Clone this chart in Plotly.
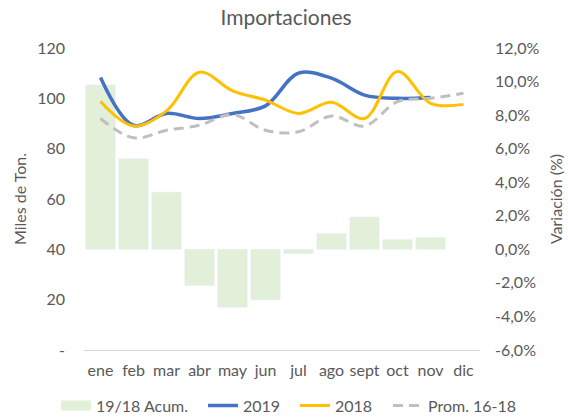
import plotly.graph_objects as go

months = ["ene", "feb", "mar", "abr", "may", "jun", "jul", "ago", "sept", "oct", "nov", "dic"]
var_acum = [9.8, 5.4, 3.4, -2.15, -3.45, -3.0, -0.25, 0.95, 1.93, 0.58, 0.7, None]
y2019 = [108.3, 89.3, 94, 92, 94, 97, 110, 108, 101.3, 100, 100.3, None]
y2018 = [98.7, 89.0, 95, 110.4, 103, 99.3, 94, 98.4, 92, 110.7, 98, 97.6]
prom = [92, 84.3, 87.3, 89.3, 93.6, 87.3, 86.7, 93, 89, 98.7, 100, 102]

left_vals = [0, 20, 40, 60, 80, 100, 120]
left_text = ["-", "20", "40", "60", "80", "100", "120"]
right_vals = [-6, -4, -2, 0, 2, 4, 6, 8, 10, 12]
right_text = ["-6,0%", "-4,0%", "-2,0%", "0,0%", "2,0%", "4,0%", "6,0%", "8,0%", "10,0%", "12,0%"]

FONT = "Lato"
GRAY = "#595959"
FS = 16

fig = go.Figure()
fig.add_trace(go.Bar(x=months, y=var_acum, name="19/18 Acum.", marker_color="#E2EFD9",
                     yaxis="y", showlegend=False, hoverinfo="skip"))
# legend swatch for the bars (wide rectangle like the reference)
fig.add_trace(go.Scatter(x=[None], y=[None], name="19/18 Acum.", mode="lines", yaxis="y2",
                         line=dict(color="#E2EFD9", width=10), legend="legend"))
fig.add_trace(go.Scatter(x=months, y=y2019, name="2019", mode="lines", yaxis="y2",
                         line=dict(color="#4472C4", width=3.5, shape="spline", smoothing=1),
                         legend="legend2"))
fig.add_trace(go.Scatter(x=months, y=y2018, name="2018", mode="lines", yaxis="y2",
                         line=dict(color="#FFC000", width=3, shape="spline", smoothing=1),
                         legend="legend3"))
fig.add_trace(go.Scatter(x=months, y=prom, name="Prom. 16-18", mode="lines", yaxis="y2",
                         line=dict(color="#BFBFBF", width=3, dash="10px,6px", shape="spline", smoothing=1),
                         legend="legend4"))

def leg(xpx):
    return dict(orientation="h", x=xpx / 568, xanchor="left", xref="container",
                y=1 - 405.5 / 417, yanchor="middle", yref="container",
                font=dict(size=FS, color=GRAY, family=FONT), bgcolor="rgba(0,0,0,0)",
                borderwidth=0)

fig.update_layout(
    width=568, height=417,
    margin=dict(l=84, r=88, t=48, b=67, autoexpand=False),
    paper_bgcolor="white", plot_bgcolor="white",
    font=dict(family=FONT, size=FS, color=GRAY),
    title=dict(text="Importaciones", x=286 / 568, xanchor="center", y=1 - 17.5 / 417, yanchor="middle",
               font=dict(size=21, color=GRAY, family=FONT)),
    bargap=0.11,
    showlegend=True,
    legend=leg(56),
    legend2=leg(203),
    legend3=leg(295),
    legend4=leg(388),
    xaxis=dict(showline=True, linecolor="#D9D9D9", linewidth=1, showgrid=False, automargin=False,
               ticks="", tickfont=dict(size=FS, color=GRAY), ticklabelstandoff=6),
    yaxis=dict(side="right", range=[-6, 12], tickvals=right_vals, ticktext=right_text,
               showgrid=False, zeroline=False, showline=False, automargin=False,
               tickfont=dict(size=FS, color=GRAY), ticklabelstandoff=14,
               title=dict(text="Variación (%)", font=dict(size=FS, color=GRAY), standoff=12)),
    yaxis2=dict(side="left", overlaying="y", range=[0, 120], tickvals=left_vals, ticktext=left_text,
                showgrid=False, zeroline=False, showline=False, automargin=False,
                tickfont=dict(size=FS, color=GRAY), ticklabelstandoff=18,
                title=dict(text="Miles de Ton.", font=dict(size=FS, color=GRAY), standoff=6)),
)

fig.write_html("out.html", config={"displayModeBar": False},
               post_script="document.body.style.margin='0px';")
